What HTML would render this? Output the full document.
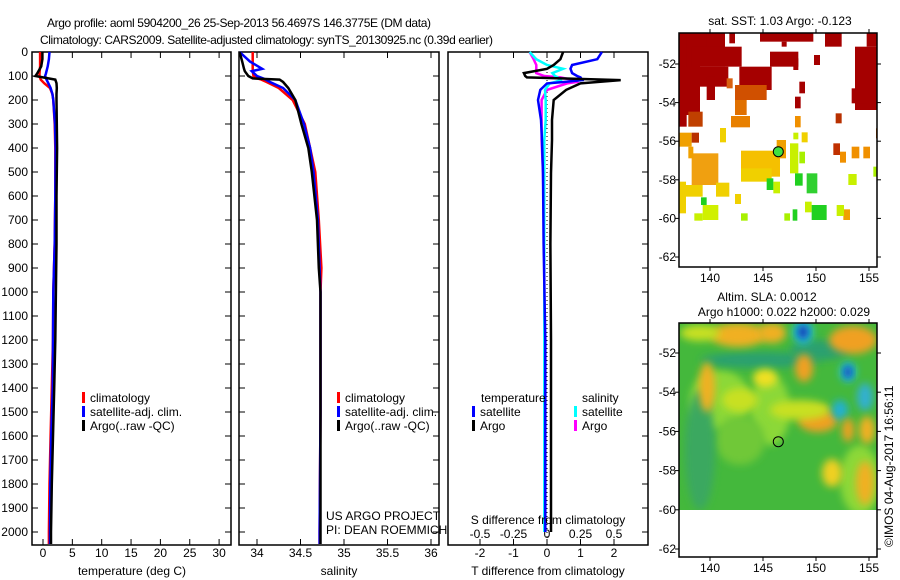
<!DOCTYPE html>
<html><head><meta charset="utf-8">
<style>
html,body{margin:0;padding:0;background:#fff;}
svg{display:block;font-family:"Liberation Sans",sans-serif;}
text{fill:#000;font-size:12px;}
</style></head>
<body>
<svg id="chart" width="900" height="580" viewBox="0 0 900 580" xmlns="http://www.w3.org/2000/svg">
<text x="47" y="27" textLength="384" font-size="13">Argo profile: aoml 5904200_26 25-Sep-2013 56.4697S 146.3775E (DM data)</text>
<text x="40" y="44" textLength="453" font-size="13">Climatology: CARS2009. Satellite-adjusted climatology: synTS_20130925.nc (0.39d earlier)</text>
<g id="panels"></g>
<g id="maps"></g>
</svg>
<script>
// ---- depth levels (m) shared by profiles ----
const tDepth = [0, 30, 60, 90, 100, 115, 130, 150, 175, 200, 300, 400, 600, 800, 1000, 1200, 1400, 1600, 1800, 2000, 2050];
const tClim = [-0.5, -0.5, -0.5, -0.6, -0.6, -0.4, 0.2, 1.2, 1.6, 1.75, 2.0, 2.1, 2.1, 2.0, 1.75, 1.7, 1.5, 1.3, 1.1, 1.0, 1.0];
const tSat = [1.1, 1.0, 0.8, 0.5, 0.35, 0.6, 0.9, 1.3, 1.6, 1.75, 2.05, 2.15, 2.1, 2.0, 1.75, 1.7, 1.65, 1.4, 1.25, 1.2, 1.2];
const tArgo = [-0.1, -0.1, -0.3, -1.0, -1.3, 2.1, 2.3, 2.35, 2.3, 2.3, 2.35, 2.4, 2.3, 2.3, 2.2, 2.1, 1.9, 1.7, 1.5, 1.36, 1.36];

const sDepth = [0, 40, 70, 80, 100, 110, 115, 125, 150, 200, 300, 400, 500, 700, 900, 1000, 1500, 2000, 2050];
const sClim = [33.95, 33.95, 33.95, 33.95, 33.96, 34.0, 34.05, 34.11, 34.25, 34.41, 34.55, 34.61, 34.67, 34.71, 34.74, 34.73, 34.73, 34.72, 34.72];
const sSat = [33.8, 33.92, 34.06, 33.94, 34.0, 34.07, 34.1, 34.15, 34.3, 34.44, 34.54, 34.61, 34.65, 34.7, 34.72, 34.73, 34.73, 34.72, 34.72];
const sArgo = [33.8, 33.83, 33.85, 33.86, 33.9, 33.95, 34.26, 34.3, 34.36, 34.44, 34.51, 34.59, 34.63, 34.69, 34.71, 34.73, 34.73, 34.73, 34.73];

const dDepth = [0, 30, 54, 70, 88, 100, 106, 117, 125, 131, 158, 200, 283, 367, 505, 800, 1200, 1600, 2000];
const dTSat = [1.64, 1.5, 0.75, 0.7, 0.75, 0.9, 1.0, 1.05, 0.5, 0.0, -0.2, -0.27, -0.18, -0.15, -0.12, -0.1, -0.05, -0.05, -0.05];
const dTArgo = [0.48, 0.4, 0.2, 0.0, -0.69, -0.65, -0.6, 2.2, 1.5, 1.0, 0.57, 0.2, 0.15, 0.15, 0.12, 0.1, 0.12, 0.12, 0.12];
const dSSat = [-0.13, -0.08, 0.0, 0.12, 0.04, 0.06, 0.08, 0.1, 0.06, 0.02, -0.015, -0.01, -0.01, -0.02, -0.02, -0.02, -0.02, -0.02, -0.02];
const dSArgo = [-0.13, -0.1, -0.08, -0.08, -0.08, -0.02, 0.1, 0.2, 0.22, 0.15, 0.0, -0.04, -0.04, -0.04, -0.03, -0.02, -0.02, -0.02, -0.02];

const depthTicks = [0,100,200,300,400,500,600,700,800,900,1000,1100,1200,1300,1400,1500,1600,1700,1800,1900,2000];
const tempTicks = [0,5,10,15,20,25,30];
const salTicks = [34,34.5,35,35.5,36];
const tdTicks = [-2,-1,0,1,2];
const sdTicks = [-0.5,-0.25,0,0.25,0.5];
const sdTickLabels = ["-0.5","-0.25","0","0.25","0.5"];
const lonTicks = [140,145,150,155];
const latTicks = [-52,-54,-56,-58,-60,-62];

const NS = "http://www.w3.org/2000/svg";
function mk(tag, attrs, parent, txt){
  const e = document.createElementNS(NS, tag);
  for (const k in attrs) e.setAttribute(k, attrs[k]);
  if (txt !== undefined) e.textContent = txt;
  parent.appendChild(e);
  return e;
}
const panels = document.getElementById('panels');
const maps = document.getElementById('maps');
const TOP = 52, BOT = 545;
const yD = d => 52 + d * 0.24;
const xT = v => 43 + v * 5.87;
const xS = v => 257 + (v - 34) * 87;
const xTD = v => 547 + v * 33.5;
const xSD = v => 547 + v * 134;

function frame(x0, x1, name, leftTicks){
  const r = mk('rect', {x:x0, y:TOP, width:x1-x0, height:BOT-TOP, fill:'none', stroke:'#000', 'stroke-width':1.5}, panels);
  
  
  depthTicks.forEach(d => {
    if (leftTicks) mk('line', {x1:x0, x2:x0+6, y1:yD(d), y2:yD(d), stroke:'#000', 'stroke-width':1}, panels);
    mk('line', {x1:x1-6, x2:x1, y1:yD(d), y2:yD(d), stroke:'#000', 'stroke-width':1}, panels);
  });
}
function xticks(vals, fx, labels, ly, name){
  vals.forEach((v,i) => {
    const x = fx(v);
    mk('line', {x1:x, x2:x, y1:TOP, y2:TOP+6, stroke:'#000'}, panels);
    mk('line', {x1:x, x2:x, y1:BOT-6, y2:BOT, stroke:'#000'}, panels);
    if (ly) {
      const t = mk('text', {x:x, y:ly, 'text-anchor':'middle'}, panels, labels ? labels[i] : String(v));
      
      
    }
  });
}
function line(depths, vals, fx, color, name, w){
  const pts = depths.map((d,i) => fx(vals[i]).toFixed(1) + ',' + yD(d).toFixed(1)).join(' ');
  const p = mk('polyline', {points:pts, fill:'none', stroke:color, 'stroke-width':w||2.5, 'stroke-linejoin':'miter'}, panels);
  
  
}
function legendItem(x, y, color, label, name){
  mk('rect', {x:x, y:y-6, width:3, height:11, fill:color}, panels);
  const t = mk('text', {x:x+8, y:y+4}, panels, label);
  
  
}

// depth labels
depthTicks.forEach(d => {
  const t = mk('text', {x:28, y:yD(d)+4, 'text-anchor':'end'}, panels, String(d));
  
  
});

// Panel 1 temperature
frame(32, 231, 'temperature-panel', true);
xticks(tempTicks, xT, null, 557, 'temperature-tick-label');
line(tDepth, tClim, xT, '#f00', 'temperature-climatology-line');
line(tDepth, tSat, xT, '#00f', 'temperature-satellite-line');
line(tDepth, tArgo, xT, '#000', 'temperature-argo-line');
{const t = mk('text', {x:132, y:575, 'text-anchor':'middle'}, panels, 'temperature (deg C)');

}
legendItem(82, 398, '#f00', 'climatology', 'legend-climatology');
legendItem(82, 412, '#00f', 'satellite-adj. clim.', 'legend-satellite-adj');
legendItem(82, 426, '#000', 'Argo(..raw -QC)', 'legend-argo');

// Panel 2 salinity
frame(239, 439, 'salinity-panel', true);
xticks(salTicks, xS, null, 557, 'salinity-tick-label');
line(sDepth, sClim, xS, '#f00', 'salinity-climatology-line');
line(sDepth, sSat, xS, '#00f', 'salinity-satellite-line');
line(sDepth, sArgo, xS, '#000', 'salinity-argo-line');
{const t = mk('text', {x:339, y:575, 'text-anchor':'middle'}, panels, 'salinity');

}
legendItem(337, 398, '#f00', 'climatology', 'legend-climatology');
legendItem(337, 412, '#00f', 'satellite-adj. clim.', 'legend-satellite-adj');
legendItem(337, 426, '#000', 'Argo(..raw -QC)', 'legend-argo');
{const t = mk('text', {x:326, y:520}, panels, 'US ARGO PROJECT');


const t2 = mk('text', {x:326, y:534}, panels, 'PI: DEAN ROEMMICH');

}

// Panel 3 differences
frame(448, 648, 'difference-panel', false);
xticks(tdTicks, xTD, null, 557, 'tdiff-tick-label');
sdTicks.forEach((v,i) => {
  const t = mk('text', {x:xSD(v), y:538, 'text-anchor':'middle'}, panels, sdTickLabels[i]);
  
  
});
mk('line', {x1:xTD(0), x2:xTD(0), y1:TOP, y2:BOT, stroke:'#000', 'stroke-width':1, 'stroke-dasharray':'1,3'}, panels);
line(dDepth, dSArgo, xSD, '#f0f', 'sdiff-argo-line');
line(dDepth, dSSat, xSD, '#0ff', 'sdiff-satellite-line');
line(dDepth, dTSat, xTD, '#00f', 'tdiff-satellite-line');
line(dDepth, dTArgo, xTD, '#000', 'tdiff-argo-line');
{const t = mk('text', {x:548, y:524, 'text-anchor':'middle'}, panels, 'S difference from climatology');


const t2 = mk('text', {x:548, y:575, 'text-anchor':'middle'}, panels, 'T difference from climatology');


const t3 = mk('text', {x:481, y:402}, panels, 'temperature');


const t4 = mk('text', {x:582, y:402}, panels, 'salinity');

}
legendItem(472, 412, '#00f', 'satellite', 'legend-tdiff-satellite');
legendItem(472, 426, '#000', 'Argo', 'legend-tdiff-argo');
legendItem(574, 412, '#0ff', 'satellite', 'legend-sdiff-satellite');
legendItem(574, 426, '#f0f', 'Argo', 'legend-sdiff-argo');

// ---- Maps ----
const MX0 = 679, MX1 = 877;
const lonX = lon => 710 + (lon - 140) * 10.6;
function mapFrame(y0, y1, latY, name){
  const r = mk('rect', {x:MX0, y:y0, width:MX1-MX0, height:y1-y0, fill:'none', stroke:'#000', 'stroke-width':1.5}, maps);
  
  
  lonTicks.forEach(l => {
    const x = lonX(l);
    mk('line', {x1:x, x2:x, y1:y0-4, y2:y0, stroke:'#000'}, maps);
    mk('line', {x1:x, x2:x, y1:y1, y2:y1+4, stroke:'#000'}, maps);
    const t = mk('text', {x:x, y:y1+15, 'text-anchor':'middle'}, maps, String(l));
    
    
  });
  latTicks.forEach(l => {
    const y = latY(l);
    mk('line', {x1:MX0-4, x2:MX0, y1:y, y2:y, stroke:'#000'}, maps);
    mk('line', {x1:MX1, x2:MX1+4, y1:y, y2:y, stroke:'#000'}, maps);
    const t = mk('text', {x:MX0-3, y:y+4, 'text-anchor':'end'}, maps, String(l));
    
    
  });
}
// SST map cells (zoom coords /3 + offset)
const sstCells = [
 [58,100,120,345,'#a50000'],[80,100,195,200,'#a50000'],[95,140,245,200,'#a50000'],[120,200,205,260,'#a50000'],
 [140,230,165,300,'#a50000'],[58,195,80,380,'#a50000'],[140,100,190,140,'#a50000'],[208,100,225,130,'#a50000'],
 [238,200,335,270,'#a50000'],[225,255,320,300,'#d05000'],[225,300,260,345,'#e07000'],[330,155,415,200,'#a50000'],
 [300,100,460,125,'#a50000'],[365,125,380,140,'#a50000'],[400,175,415,210,'#a50000'],[462,165,480,195,'#a50000'],
 [418,245,435,280,'#a50000'],[405,290,422,325,'#a50000'],[495,100,545,140,'#a50000'],[585,140,652,330,'#a50000'],
 [620,100,652,140,'#a50000'],[575,265,620,310,'#a50000'],[527,340,545,370,'#b83000'],[200,235,218,265,'#d86010'],
 [213,348,270,382,'#e88000'],[85,335,128,380,'#c04000'],[58,398,95,440,'#f0a000'],[95,398,117,428,'#b83000'],
 [405,348,422,382,'#f09000'],[95,460,175,555,'#f0a010'],[85,440,100,475,'#f0a000'],[243,452,360,530,'#f5c000'],
 [243,505,335,545,'#f0d000'],[350,420,378,475,'#f0a000'],[520,430,540,465,'#c03000'],[540,455,558,488,'#f09000'],
 [575,440,598,475,'#f09000'],[610,440,630,475,'#f09000'],[550,628,570,660,'#f0a000'],[648,385,652,415,'#d06000'],
 [58,545,78,640,'#f0d000'],[78,555,128,590,'#f0d000'],[168,548,208,590,'#f0d000'],[225,582,243,612,'#f0d000'],
 [180,384,198,427,'#f0d000'],[425,397,443,427,'#f0d000'],[400,398,415,418,'#c8f000'],[390,430,415,520,'#c8f000'],
 [418,455,435,490,'#a8f000'],[340,545,360,580,'#c8f000'],[565,522,590,555,'#c8f000'],[530,615,552,648,'#c8f000'],
 [435,605,455,637,'#c8f000'],[128,615,175,660,'#d0f000'],[103,640,128,662,'#c8f000'],[243,640,263,662,'#a8f000'],
 [373,640,390,662,'#a8f000'],[640,500,652,530,'#a8f000'],[320,535,340,570,'#20d020'],[405,520,428,557,'#20d020'],
 [440,520,472,580,'#30d030'],[123,592,140,615,'#20d020'],[455,615,500,660,'#20d020'],[398,628,412,662,'#20d020']
];
const sstLatY = l => 64 + (-52 - l) * 19.3;
const sstG = mk('g', {}, maps);


sstCells.forEach(c => {
  mk('rect', {x:660+c[0]/3, y:c[1]/3, width:(c[2]-c[0])/3, height:(c[3]-c[1])/3, fill:c[4]}, sstG);
});
{const c = mk('circle', {cx:778.3, cy:151.7, r:5, fill:'#40e040', stroke:'#000', 'stroke-width':1}, maps);

}
mapFrame(33, 267, sstLatY, 'sst-map-frame');
{const t = mk('text', {x:780, y:25, 'text-anchor':'middle'}, maps, 'sat. SST: 1.03 Argo: -0.123');

}

// SLA map
const slaLatY = l => 353 + (-52 - l) * 19.6;
const defs = mk('defs', {}, maps);
const f = mk('filter', {id:'blur', x:'-50%', y:'-50%', width:'200%', height:'200%'}, defs);
mk('feGaussianBlur', {stdDeviation:4}, f);
const cp = mk('clipPath', {id:'slaclip'}, defs);
mk('rect', {x:MX0, y:323, width:MX1-MX0, height:187}, cp);
const slaG = mk('g', {'clip-path':'url(#slaclip)'}, maps);


mk('rect', {x:MX0, y:323, width:MX1-MX0, height:187, fill:'#44b83c'}, slaG);
const blobs = [
 [720,400,30,30,'#8cd838'],[770,410,20,35,'#8cd838'],[740,440,25,25,'#70c838'],[860,480,20,35,'#8cd838'],
 [760,360,60,8,'#2aa070'],[820,350,30,10,'#2aa070'],[700,450,15,60,'#3aa860'],
 [738,335,28,12,'#f0b020'],[772,333,14,10,'#f0b020'],[700,333,20,8,'#c8e020'],[853,340,24,14,'#f0a020'],
 [803,332,10,12,'#20c0e0'],[803,332,5,7,'#1030b0'],[804,368,9,14,'#f0a020'],[848,372,8,10,'#20c0e0'],[848,372,4,6,'#1030b0'],
 [765,378,12,9,'#f0e020'],[707,387,8,25,'#f0b020'],[740,400,18,12,'#c8e020'],[818,420,20,12,'#f0a020'],
 [800,410,30,10,'#c8e020'],[840,410,8,10,'#20b0d0'],[865,397,8,14,'#30b0d0'],[848,430,6,12,'#f0a020'],
 [867,430,8,14,'#f0b020'],[832,473,10,14,'#f0d020'],[865,483,9,22,'#f0b020']
];
blobs.forEach(b => {
  mk('ellipse', {cx:b[0], cy:b[1], rx:b[2], ry:b[3], fill:b[4], filter:'url(#blur)'}, slaG);
});
{const c = mk('circle', {cx:778.3, cy:441.7, r:5, fill:'none', stroke:'#000', 'stroke-width':1}, maps);

}
mapFrame(323, 557, slaLatY, 'sla-map-frame');
{const t = mk('text', {x:767, y:301, 'text-anchor':'middle'}, maps, 'Altim. SLA: 0.0012');


const t2 = mk('text', {x:784, y:316, 'text-anchor':'middle'}, maps, 'Argo h1000: 0.022 h2000: 0.029');


const t3 = mk('text', {x:0, y:0, transform:'translate(893,547) rotate(-90)'}, maps, '\u00a9IMOS 04-Aug-2017 16:56:11');

}
</script>
</body></html>
